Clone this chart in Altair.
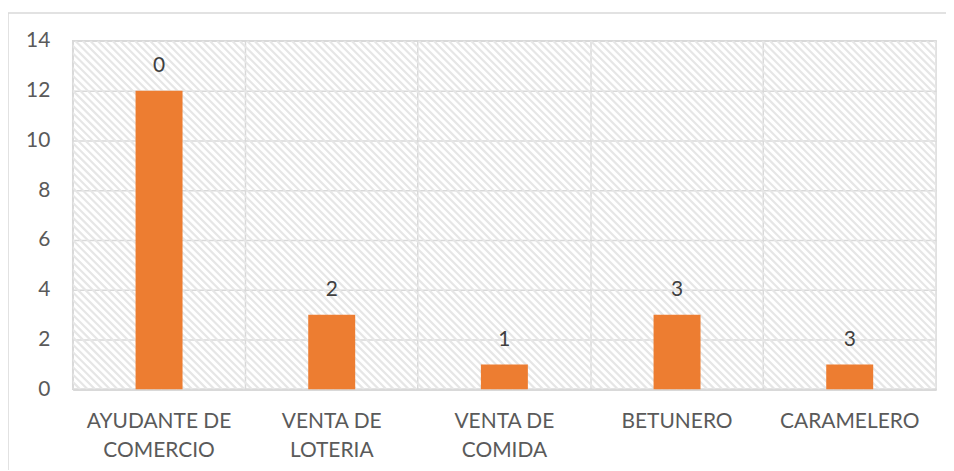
import altair as alt
import pandas as pd
import numpy as np

categories = ["AYUDANTE DE|COMERCIO", "VENTA DE|LOTERIA", "VENTA DE|COMIDA", "BETUNERO", "CARAMELERO"]
values = [12, 3, 1, 3, 1]
labels = ["0", "2", "1", "3", "3"]

W, H = 867, 350
df = pd.DataFrame({"cat": categories, "val": values, "lab": labels})

# decorative hatch (pixel-space pattern for the plot background)
offs = np.arange(-H, W + 8, 7.5)
hatch = pd.DataFrame({"x": offs, "x2": offs + H, "y": 0, "y2": H})

GRID = "#d9d9d9"
FONT = "Lato"

hatch_layer = alt.Chart(hatch).mark_rule(color="#e6e6e6", strokeWidth=2.2, clip=True).encode(
    x=alt.X("x:Q", scale=alt.Scale(domain=[0, W], nice=False, zero=False), axis=None),
    x2="x2:Q",
    y=alt.Y("y:Q", scale=alt.Scale(domain=[0, H], reverse=True, nice=False), axis=None),
    y2="y2:Q",
)

base = alt.Chart(df)

grid_layer = base.mark_bar(opacity=0).encode(
    x=alt.X("cat:N", sort=categories, title=None,
            scale=alt.Scale(paddingInner=0, paddingOuter=0),
            axis=alt.Axis(labelExpr="split(datum.label, '|')", labelAngle=0,
                          labelFont=FONT, labelFontSize=21, labelColor="#5a5a5a",
                          labelLineHeight=29, labelPadding=21, ticks=False,
                          grid=True, gridColor=GRID, gridWidth=1.5, bandPosition=0,
                          domainColor=GRID, domainWidth=2.5, labelBaseline="top")),
    y=alt.Y("val:Q", title=None, scale=alt.Scale(domain=[0, 14], nice=False),
            axis=alt.Axis(values=list(range(0, 15, 2)), labelFont=FONT, labelFontSize=21,
                          labelColor="#5a5a5a", labelPadding=23, ticks=False, domain=False,
                          grid=True, gridColor=GRID, gridWidth=1.5)),
)

bars = base.mark_bar(color="#ED7D31", width=alt.RelativeBandSize(0.272)).encode(
    x=alt.X("cat:N", sort=categories),
    y=alt.Y("val:Q"),
)

text = base.mark_text(dy=-25, font=FONT, fontSize=21, color="#404040").encode(
    x=alt.X("cat:N", sort=categories),
    y=alt.Y("val:Q"),
    text="lab:N",
)

border = alt.Chart(pd.DataFrame({"k": [0]})).mark_rule(color=GRID, strokeWidth=1.5, clip=False)
b_top = border.encode(x=alt.value(-65), x2=alt.value(W + 30), y=alt.value(-28))
b_left = border.encode(x=alt.value(-65), y=alt.value(-28), y2=alt.value(H + 100))

main = alt.layer(grid_layer, bars, text, b_top, b_left)
chart = alt.layer(hatch_layer, main).resolve_scale(x="independent", y="independent").properties(
    width=W, height=H,
    autosize=alt.AutoSizeParams(type="none"),
    padding={"left": 65, "top": 32, "right": 10, "bottom": 80},
).configure_view(stroke=GRID, strokeWidth=1.5)

chart.save("out.html", embed_options={"renderer": "svg", "actions": False})
